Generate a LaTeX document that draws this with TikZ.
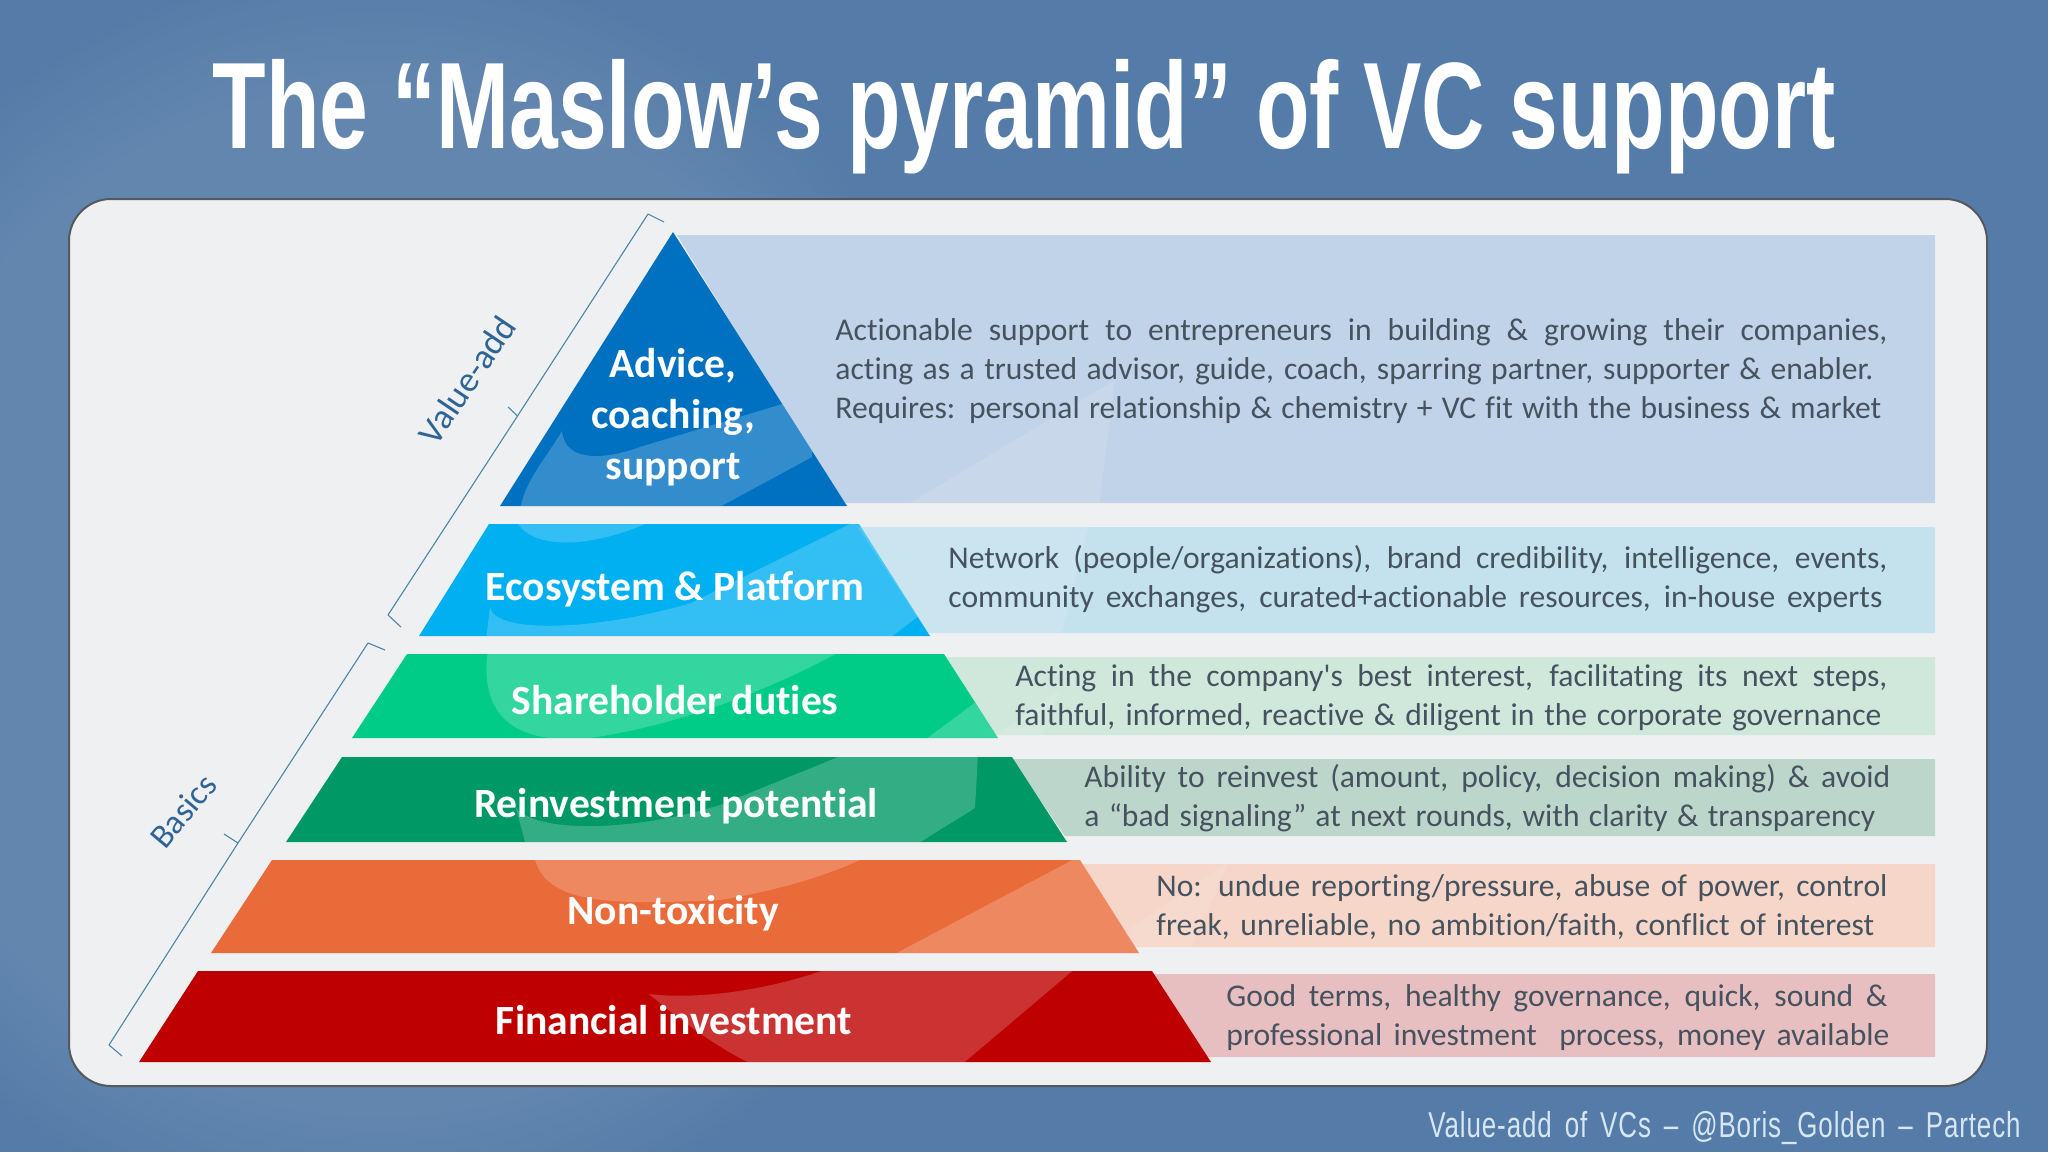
\documentclass[tikz,border=0pt]{standalone}
\usepackage{fontspec}
\usetikzlibrary{fadings}
\newfontfamily\carlitof[Ligatures=NoCommon]{Carlito}
\newfontfamily\titlef[FakeStretch=0.7125]{Liberation Sans}
\newfontfamily\footf[FakeStretch=0.72,LetterSpace=2.5,WordSpace=1.6]{Liberation Sans}
\definecolor{bgblue}{HTML}{557CA8}
\definecolor{cardfill}{HTML}{EFF0F2}
\definecolor{cardline}{HTML}{55585C}
\definecolor{brk}{HTML}{4C86A8}
\definecolor{lab}{HTML}{2F6496}
\definecolor{bodytxt}{HTML}{46535F}
\definecolor{footc}{HTML}{D6E6F3}
\definecolor{pa}{HTML}{C0D3E8}
\definecolor{pb}{HTML}{C3E2EE}
\definecolor{pc}{HTML}{D0E8DC}
\definecolor{pd}{HTML}{BDD6CB}
\definecolor{pe}{HTML}{F6D6C9}
\definecolor{pf}{HTML}{E8BFC1}
\definecolor{ta}{HTML}{0070C0}
\definecolor{tb}{HTML}{00B0F0}
\definecolor{tc}{HTML}{00CC88}
\definecolor{td}{HTML}{009966}
\definecolor{te}{HTML}{E96B39}
\definecolor{tf}{HTML}{BE0000}
\newcommand{\tl}[2]{\makebox[\dimexpr #1pt/2\relax][s]{#2}}
\tikzset{
  x=0.5pt,y=-0.5pt,
  tier/.style={fill=#1,draw=none},
  panel/.style={fill=#1,draw=none},
  tierlabel/.style={text=white,font=\carlitof\fontsize{20.8}{25.5}\selectfont\bfseries,align=center,inner sep=0pt},
  bodytext/.style={text=bodytxt,font=\carlitof\fontsize{15.8}{19.5}\selectfont,align=left,anchor=west,inner sep=0pt},
  bracket/.style={draw=brk,line width=0.55pt,line join=round},
  sidelabel/.style={text=lab,font=\carlitof\fontsize{#1}{20}\selectfont,inner sep=0pt},
  glow/.style={fill=white,opacity=#1,draw=none}
}
\begin{document}
\begin{tikzpicture}
\useasboundingbox (0,0) rectangle (2048,1152);
\fill[bgblue] (0,0) rectangle (2048,1152);
\fill[white,opacity=0.08,path fading=circle with fuzzy edge 20 percent] (-240,-40) rectangle (1000,1240);
% card
\draw[cardline,line width=1pt,fill=cardfill,rounded corners=21pt] (69,199) rectangle (1987,1086);
% panels
\fill[panel=pa] (677,235) -- (1935,235) -- (1935,503) -- (842,503) -- cycle;
\fill[panel=pb] (858,527) -- (1935,527) -- (1935,633) -- (928,633) -- cycle;
\fill[panel=pc] (943,657) -- (1935,657) -- (1935,735) -- (996,735) -- cycle;
\fill[panel=pd] (1012,759) -- (1935,759) -- (1935,836) -- (1065,836) -- cycle;
\fill[panel=pe] (1080,864) -- (1935,864) -- (1935,947) -- (1135,947) -- cycle;
\fill[panel=pf] (1152,974) -- (1935,974) -- (1935,1057) -- (1207,1057) -- cycle;
% tiers
\fill[tier=ta] (673,232) -- (847,506) -- (500,506) -- cycle;
\fill[tier=tb] (489,524) -- (859,524) -- (930,636) -- (419,636) -- cycle;
\fill[tier=tc] (407,654) -- (944,654) -- (998,738) -- (352,738) -- cycle;
\fill[tier=td] (342,757) -- (1012,757) -- (1067,842) -- (286,842) -- cycle;
\fill[tier=te] (272,860) -- (1080,860) -- (1139,953) -- (211,953) -- cycle;
\fill[tier=tf] (198,971) -- (1152,971) -- (1211,1062) -- (139,1062) -- cycle;
% watermark, only inside tiers
\begin{scope}
\clip (673,232) -- (847,506) -- (500,506) -- cycle
 (489,524) -- (859,524) -- (930,636) -- (419,636) -- cycle
 (407,654) -- (944,654) -- (998,738) -- (352,738) -- cycle
 (342,757) -- (1012,757) -- (1067,842) -- (286,842) -- cycle
 (272,860) -- (1080,860) -- (1139,953) -- (211,953) -- cycle
 (198,971) -- (1152,971) -- (1211,1062) -- (139,1062) -- cycle;
\fill[glow=0.2] (562,431) .. controls (565,465) and (610,458) .. (640,447) -- (812,395) -- (812,457) -- (714,510) -- (520,510) .. controls (525,480) and (545,460) .. (562,431) -- cycle;
\fill[glow=0.2] (516,520) .. controls (530,550) and (590,550) .. (654,520) -- cycle;
\fill[glow=0.2] (490,607) .. controls (495,635) and (600,630) .. (691,603) -- (858,520) -- (940,520) -- (940,600) -- (887,640) -- (486,640) -- cycle;
\fill[glow=0.2] (488,650) .. controls (478,720) and (520,745) .. (590,738) .. controls (680,725) and (770,690) .. (843,650) -- cycle;
\fill[glow=0.2] (922,742) -- (988,693) -- (1010,742) -- cycle;
\fill[glow=0.2] (516,808) .. controls (540,835) and (640,830) .. (720,805) -- (848,753) -- (978,753) -- (975,808) -- (914,846) -- (526,846) -- cycle;
\fill[glow=0.2] (534,856) .. controls (545,905) and (610,905) .. (720,900) .. controls (780,890) and (830,875) .. (868,856) -- cycle;
\fill[glow=0.2] (889,957) -- (1078,857) -- (1150,857) -- (1150,957) -- cycle;
\fill[glow=0.2] (649,994) .. controls (680,1020) and (720,1050) .. (756,1066) -- (960,1066) -- (1077,967) -- (833,967) .. controls (770,990) and (700,1000) .. (649,994) -- cycle;
\end{scope}
\begin{scope}
\clip (677,235) -- (1935,235) -- (1935,503) -- (842,503) -- cycle
 (858,527) -- (1935,527) -- (1935,633) -- (928,633) -- cycle
 (943,657) -- (1935,657) -- (1935,735) -- (996,735) -- cycle
 (1012,759) -- (1935,759) -- (1935,836) -- (1065,836) -- cycle
 (1080,864) -- (1935,864) -- (1935,947) -- (1135,947) -- cycle;
\fill[glow=0.13] (905,506) -- (1115,380) -- (1099,506) -- cycle;
\fill[glow=0.13] (850,520) -- (1090,520) -- (1060,640) -- (930,640) -- cycle;
\fill[glow=0.1] (990,740) -- (1060,690) -- (1040,740) -- cycle;
\fill[glow=0.1] (1100,950) -- (1230,860) -- (1190,950) -- cycle;
\end{scope}
% title
\node[inner sep=0pt,text=white,font=\titlef\fontsize{61.5}{68}\selectfont\bfseries] (title) at (1024,117) {The “Maslow’s pyramid” of VC support};
% tier labels
\node[tierlabel] (t1) at (673,417) {Advice,\\coaching,\\support};
\node[tierlabel] (t2) at (675,589) {Ecosystem \& Platform};
\node[tierlabel] (t3) at (675,700) {Shareholder duties};
\node[tierlabel] (t4) at (676,806) {Reinvestment potential};
\node[tierlabel] (t5) at (673,913) {Non-toxicity};
\node[tierlabel] (t6) at (674,1020) {Financial investment};
% body text
\node[bodytext] (b1) at (835,371.5) {\tl{1052}{Actionable support to entrepreneurs in building \& growing their companies,}\\\tl{1038}{acting as a trusted advisor, guide, coach, sparring partner, supporter \& enabler.}\\\tl{1046}{Requires: personal relationship \& chemistry + VC fit with the business \& market}};
\node[bodytext] (b2) at (948,579.5) {\tl{939}{Network (people/organizations), brand credibility, intelligence, events,}\\\tl{934}{community exchanges, curated+actionable resources, in-house experts}};
\node[bodytext] (b3) at (1015,698) {\tl{872}{Acting in the company's best interest, facilitating its next steps,}\\\tl{866}{faithful, informed, reactive \& diligent in the corporate governance}};
\node[bodytext] (b4) at (1084,798.5) {\tl{806}{Ability to reinvest (amount, policy, decision making) \& avoid}\\\tl{791}{a “bad signaling” at next rounds, with clarity \& transparency}};
\node[bodytext] (b5) at (1156,907.5) {\tl{731}{No: undue reporting/pressure, abuse of power, control}\\\tl{718}{freak, unreliable, no ambition/faith, conflict of interest}};
\node[bodytext] (b6) at (1226,1017.5) {\tl{661}{Good terms, healthy governance, quick, sound \&}\\\tl{663}{professional investment\ \ process, money available}};
% brackets
\coordinate (va1) at (664,222); \coordinate (va2) at (648,214);
\coordinate (vam) at (517.5,416); \coordinate (vat) at (508,407);
\coordinate (va3) at (388,615); \coordinate (va4) at (401,627);
\draw[bracket] (va1) -- (va2) -- (vam) -- (vat) (vam) -- (va3) -- (va4);
\coordinate (ba1) at (385,650); \coordinate (ba2) at (368,643);
\coordinate (bam) at (238,843); \coordinate (bat) at (224,834);
\coordinate (ba3) at (109,1045); \coordinate (ba4) at (122,1056);
\draw[bracket] (ba1) -- (ba2) -- (bam) -- (bat) (bam) -- (ba3) -- (ba4);
\node[sidelabel=17.8,rotate=56] (sv) at (467,380) {Value-add};
\node[sidelabel=17,rotate=50] (sb) at (183,811) {Basics};
% footer
\node[inner sep=0pt,anchor=east,text=footc,font=\footf\fontsize{18}{20}\selectfont] (foot) at (2021,1128) {Value-add of VCs – @Boris\_Golden – Partech};
\end{tikzpicture}
\end{document}
